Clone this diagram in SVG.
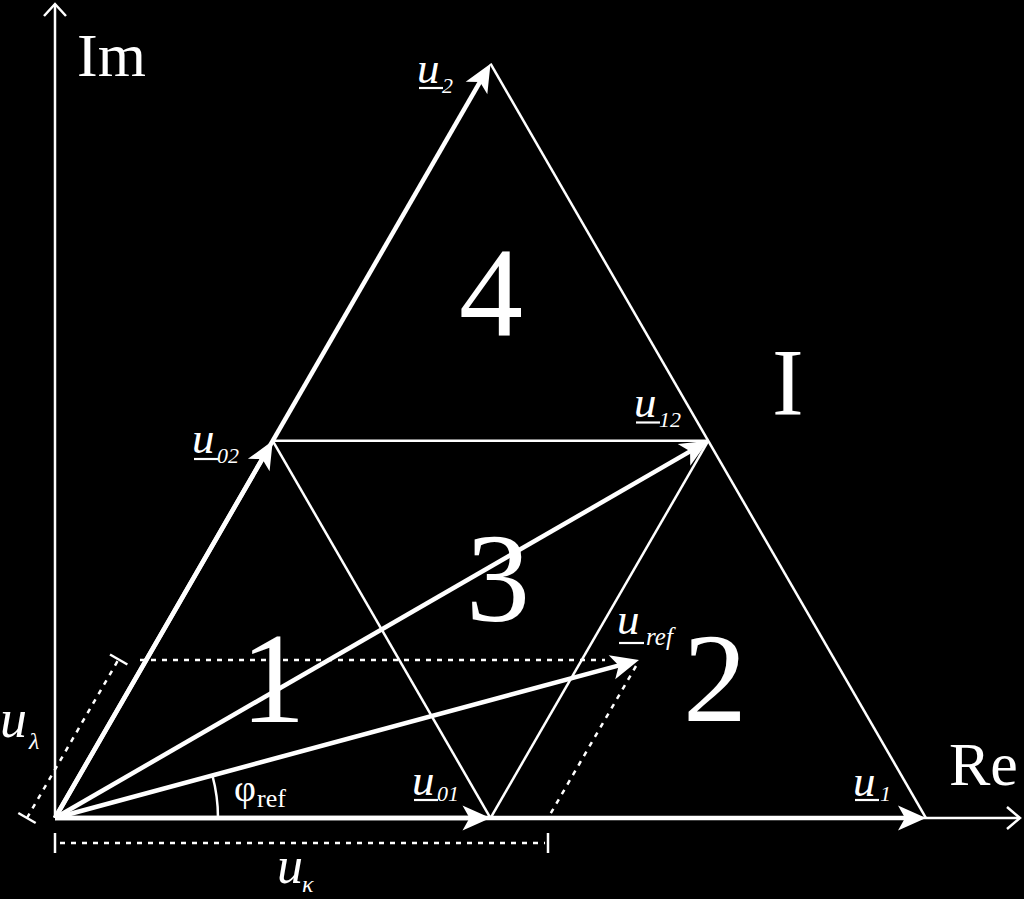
<svg xmlns="http://www.w3.org/2000/svg" width="1024" height="899" viewBox="0 0 1024 899">
<defs>
<style>
.thick{stroke:#fff;stroke-width:4.5;fill:none}
.thin{stroke:#fff;stroke-width:2.5;fill:none}
.axis{stroke:#fff;stroke-width:2.5;fill:none}
.dash{stroke:#fff;stroke-width:2.5;fill:none;stroke-dasharray:5 6}
.t{font-family:"Liberation Serif","Times New Roman",serif;fill:#fff}
.i{font-style:italic}
.ul{stroke:#fff;stroke-width:2.2}
</style>
<marker id="ah" viewBox="-20 -14 32 28" markerWidth="32" markerHeight="28" refX="0" refY="0" orient="auto" markerUnits="userSpaceOnUse">
<path d="M10,0 L-18,-12.5 L-11,0 L-18,12.5 Z" fill="#fff"/>
</marker>
</defs>
<rect width="1024" height="899" fill="#000"/>
<g id="axes">
<line class="axis" x1="55" y1="818" x2="55" y2="4"/>
<polyline class="axis" points="44,16 55,4 66,16"/>
<line class="axis" x1="55" y1="818" x2="1020" y2="818"/>
<polyline class="axis" points="1007,807 1020,818 1007,829"/>
</g>
<g id="connectors">
<line class="thin" x1="490.5" y1="63.7" x2="926" y2="818"/>
<line class="thin" x1="272.75" y1="440.85" x2="708.25" y2="440.85"/>
<line class="thin" x1="272.75" y1="440.85" x2="490.5" y2="818"/>
<line class="thin" x1="490.5" y1="818" x2="708.25" y2="440.85"/>
<line class="thick" x1="55" y1="818" x2="916" y2="818" marker-end="url(#ah)"/>
<line class="thick" x1="55" y1="818" x2="480.5" y2="818" marker-end="url(#ah)"/>
<line class="thick" x1="55" y1="818" x2="485.5" y2="72.4" marker-end="url(#ah)"/>
<line class="thick" x1="55" y1="818" x2="267.75" y2="449.5" marker-end="url(#ah)"/>
<line class="thick" x1="55" y1="818" x2="699.6" y2="445.85" marker-end="url(#ah)"/>
<line class="thick" x1="55" y1="818" x2="629.35" y2="662.6" marker-end="url(#ah)"/>
<path class="thin" d="M218,818 A163,163 0 0 0 212.4,775.5"/>
</g>
<g id="construction">
<line class="dash" x1="140" y1="660" x2="605" y2="660"/>
<line class="dash" x1="636" y1="666" x2="548" y2="818"/>
<line class="dash" x1="27" y1="818" x2="118.5" y2="659.5"/>
<line class="thin" x1="18.3" y1="813" x2="35.7" y2="823"/>
<line class="thin" x1="110" y1="654.5" x2="127.4" y2="664.5"/>
<line class="dash" x1="60" y1="843" x2="545" y2="843"/>
<line class="thin" x1="55" y1="833" x2="55" y2="853"/>
<line class="thin" x1="548" y1="833" x2="548" y2="853"/>
</g>
<g id="labels">
<text class="t" x="77" y="76" font-size="62">Im</text>
<text class="t" x="949" y="785" font-size="62">Re</text>
<text class="t" x="772" y="415" font-size="95">I</text>
<text class="t" x="491" y="335" font-size="128" text-anchor="middle">4</text>
<text class="t" x="498" y="621" font-size="128" text-anchor="middle">3</text>
<text class="t" x="273" y="722" font-size="130" text-anchor="middle">1</text>
<text class="t" x="715" y="721" font-size="128" text-anchor="middle">2</text>
</g>
<g id="vector-labels">
<g id="lbl-u2"><text class="t i" x="417" y="83" font-size="45">u</text><line class="ul" x1="419" y1="88" x2="443" y2="88"/><text class="t i" x="442" y="93" font-size="22">2</text></g>
<g id="lbl-u02"><text class="t i" x="192" y="453" font-size="45">u</text><line class="ul" x1="194" y1="459" x2="218" y2="459"/><text class="t i" x="217" y="463" font-size="22">02</text></g>
<g id="lbl-u12"><text class="t i" x="634" y="417" font-size="45">u</text><line class="ul" x1="636" y1="422.5" x2="660" y2="422.5"/><text class="t i" x="659" y="427" font-size="22">12</text></g>
<g id="lbl-uref"><text class="t i" x="617" y="634" font-size="45">u</text><line class="ul" x1="619" y1="643" x2="644" y2="643"/><text class="t i" x="646" y="645" font-size="25">ref</text></g>
<g id="lbl-u01"><text class="t i" x="412" y="795" font-size="45">u</text><line class="ul" x1="414" y1="800" x2="438" y2="800"/><text class="t i" x="437" y="801" font-size="22">01</text></g>
<g id="lbl-u1"><text class="t i" x="853" y="796" font-size="45">u</text><line class="ul" x1="855" y1="800" x2="879" y2="800"/><text class="t i" x="880" y="801" font-size="22">1</text></g>
<g id="lbl-ul"><text class="t i" x="0" y="737" font-size="54">u</text><text class="t i" x="29" y="749" font-size="24">λ</text></g>
<g id="lbl-uk"><text class="t i" x="277" y="883" font-size="52">u</text><text class="t i" x="302" y="892" font-size="24">κ</text></g>
<g id="lbl-phi"><text class="t" x="234" y="801" font-size="38">φ</text><text class="t" x="257" y="807" font-size="26">ref</text></g>
</g>
</svg>
